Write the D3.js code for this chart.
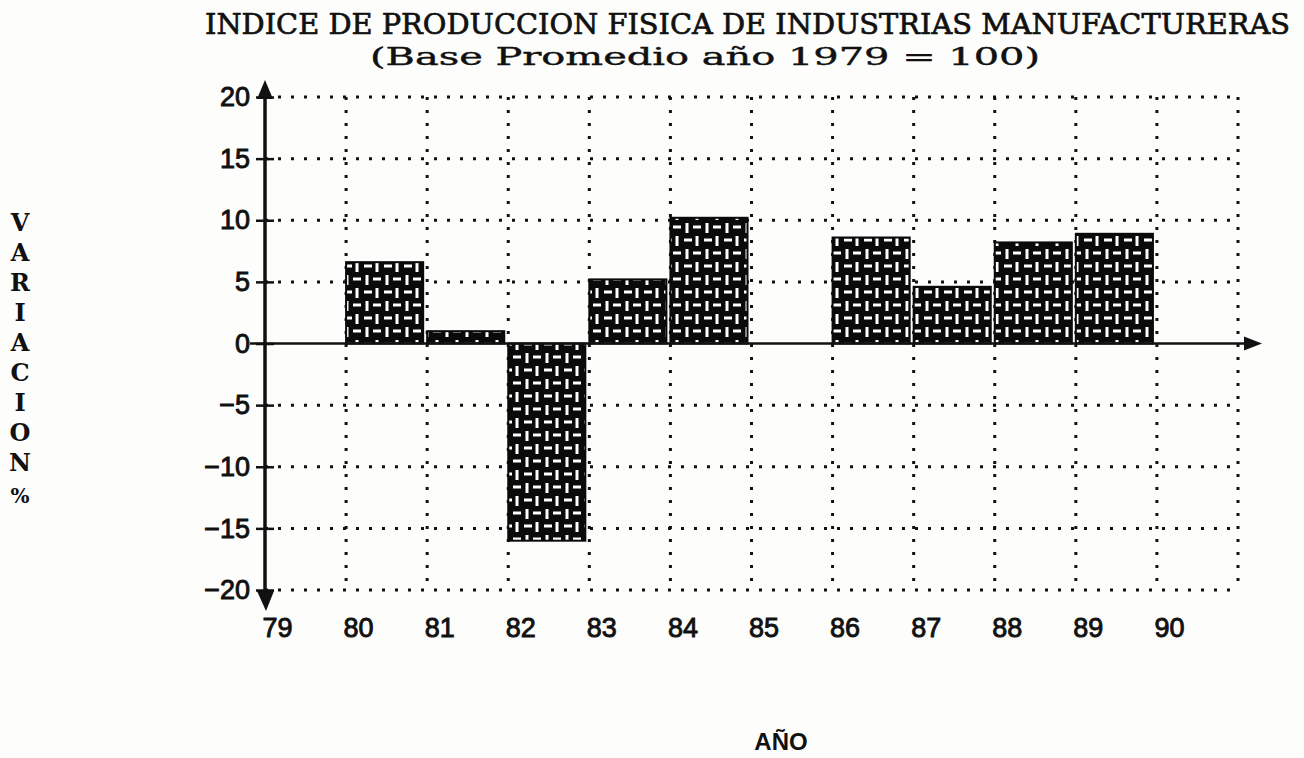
<!DOCTYPE html>
<html lang="es">
<head>
<meta charset="UTF-8">
<title>Indice de produccion fisica</title>
<script src="https://cdn.jsdelivr.net/npm/d3@7"></script>
<style>
    body { margin: 0; background: #fdfdfb; }
    svg { display: block; }
</style>
</head>
<body>
<svg id="chart" width="1304" height="758"></svg>
<script>
// datos
var years = [80, 81, 82, 83, 84, 85, 86, 87, 88, 89, 90]
var values = [6.6, 1.0, -16.0, 5.2, 10.2, 0, 8.6, 4.6, 8.2, 8.9, 0]
var yTicks = [20, 15, 10, 5, 0, -5, -10, -15, -20]
var xTicks = [79, 80, 81, 82, 83, 84, 85, 86, 87, 88, 89, 90]
var gridYears = [80, 81, 82, 83, 84, 85, 86, 87, 88, 89, 90, 91]
var yTitle = ['V', 'A', 'R', 'I', 'A', 'C', 'I', 'O', 'N']

var svg = d3.select('#chart')
var x = d3.scaleLinear().domain([79, 91]).range([265, 1238])
var y = d3.scaleLinear().domain([-20, 20]).range([590, 97])

// trama de las barras
var defs = svg.append('defs')
var pat = defs.append('pattern')
    .attr('id', 'trama').attr('patternUnits', 'userSpaceOnUse')
    .attr('x', 2).attr('y', 1)
    .attr('width', 20).attr('height', 26)
pat.append('rect').attr('width', 20).attr('height', 26).attr('fill', '#0a0a0a')
var marks = [
    [2, 5, 10, 5], [15, 1, 15, 11], [5, 14, 5, 24], [11, 18, 19, 18]
]
pat.selectAll('line').data(marks).enter().append('line')
    .attr('x1', d => d[0]).attr('y1', d => d[1])
    .attr('x2', d => d[2]).attr('y2', d => d[3])
    .attr('stroke', '#fff').attr('stroke-width', 3)

// reticula punteada
var grid = svg.append('g').attr('stroke', '#111').attr('stroke-width', 3)
    .attr('stroke-dasharray', '3,10').attr('stroke-linecap', 'butt')
grid.selectAll('.h').data(yTicks.filter(d => d !== 0)).enter().append('line')
    .attr('x1', x(79)).attr('x2', x(91))
    .attr('y1', d => y(d)).attr('y2', d => y(d))
grid.selectAll('.v').data(gridYears).enter().append('line')
    .attr('x1', d => x(d)).attr('x2', d => x(d))
    .attr('y1', y(20)).attr('y2', y(-20))

// barras
svg.append('g').selectAll('rect').data(years).enter().append('rect')
    .attr('x', d => x(d))
    .attr('width', d => x(d + 1) - x(d) - 4)
    .attr('y', (d, i) => y(Math.max(0, values[i])))
    .attr('height', (d, i) => Math.abs(y(values[i]) - y(0)))
    .attr('fill', 'url(#trama)')
    .attr('stroke', '#0a0a0a').attr('stroke-width', 2)

// eje x (linea del cero)
svg.append('line').attr('x1', 250).attr('x2', 1248)
    .attr('y1', y(0)).attr('y2', y(0))
    .attr('stroke', '#111').attr('stroke-width', 2.5)
svg.append('path').attr('d', 'M1244,' + (y(0) - 7) + 'L1262,' + y(0) + 'L1244,' + (y(0) + 7) + 'Z')
    .attr('fill', '#111')

// eje y
svg.append('line').attr('x1', x(79)).attr('x2', x(79))
    .attr('y1', 90).attr('y2', 598)
    .attr('stroke', '#111').attr('stroke-width', 3.5)
svg.append('path').attr('d', 'M257,99L265,80L273,99Z').attr('fill', '#111')
svg.append('path').attr('d', 'M257,591L266,611L274,591Z').attr('fill', '#111')

var yAxis = svg.append('g').attr('transform', 'translate(274,0)')
    .call(d3.axisLeft(y).tickValues(yTicks).tickSize(18).tickPadding(6)
        .tickFormat(d => d < 0 ? '\u2212' + Math.abs(d) : d))
yAxis.select('.domain').remove()
yAxis.selectAll('line').attr('stroke', '#111').attr('stroke-width', 2.5)
yAxis.selectAll('text').attr('font-family', 'Liberation Sans, Arial, sans-serif')
    .attr('font-size', 27).attr('fill', '#111')
    .attr('stroke', '#111').attr('stroke-width', 0.9)

var xAxis = svg.append('g').attr('transform', 'translate(0,' + 614 + ')')
    .call(d3.axisBottom(x).tickValues(xTicks).tickSize(0).tickPadding(4))
xAxis.select('.domain').remove()
xAxis.selectAll('text').attr('text-anchor', 'start').attr('dx', -3)
    .attr('font-family', 'Liberation Sans, Arial, sans-serif')
    .attr('font-size', 27).attr('fill', '#111')
    .attr('stroke', '#111').attr('stroke-width', 0.9)

// titulos
svg.append('text').attr('x', 205).attr('y', 34)
    .attr('textLength', 1085).attr('lengthAdjust', 'spacingAndGlyphs')
    .attr('font-family', 'DejaVu Serif, serif').attr('font-size', 28).attr('fill', '#111')
    .attr('stroke', '#111').attr('stroke-width', 0.7)
    .text('INDICE DE PRODUCCION FISICA DE INDUSTRIAS MANUFACTURERAS')
svg.append('text').attr('x', 370).attr('y', 65)
    .attr('textLength', 670).attr('lengthAdjust', 'spacingAndGlyphs')
    .attr('font-family', 'DejaVu Serif, serif').attr('font-size', 25).attr('fill', '#111')
    .attr('stroke', '#111').attr('stroke-width', 0.4)
    .text('(Base Promedio año 1979 = 100)')

svg.append('g').selectAll('text').data(yTitle).enter().append('text')
    .attr('x', 20).attr('y', (d, i) => 222 + i * 30).attr('dy', '0.36em')
    .attr('text-anchor', 'middle')
    .attr('font-family', 'DejaVu Serif, serif').attr('font-weight', 'bold')
    .attr('font-size', 24).attr('fill', '#111')
    .text(d => d)
svg.append('text').attr('x', 20).attr('y', 496).attr('dy', '0.36em')
    .attr('text-anchor', 'middle')
    .attr('font-family', 'DejaVu Serif, serif').attr('font-weight', 'bold')
    .attr('font-size', 20).attr('fill', '#111').text('%')

svg.append('text').attr('x', 781).attr('y', 750)
    .attr('text-anchor', 'middle')
    .attr('font-family', 'Liberation Sans, Arial, sans-serif').attr('font-weight', 'bold')
    .attr('font-size', 24).attr('fill', '#111').text('AÑO')
</script>
</body>
</html>
